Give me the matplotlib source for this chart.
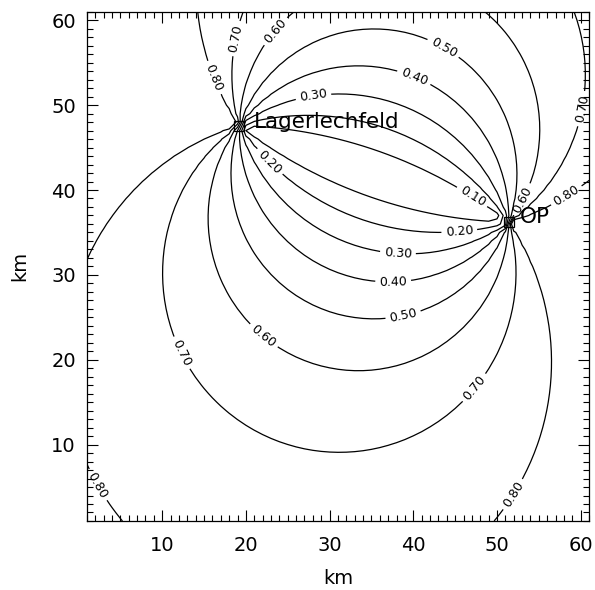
import numpy as np
import matplotlib
matplotlib.use("Agg")
import matplotlib.pyplot as plt
from matplotlib.ticker import MultipleLocator

# radar sites (km)
site_names = ["Lagerlechfeld", "OP"]
site_x = [19.2, 51.4]
site_y = [47.6, 36.2]

# contour levels drawn
levels = [0.10, 0.20, 0.30, 0.40, 0.50, 0.60, 0.70, 0.80]

# where the contour labels sit (km)
label_pos = [
    (16.1, 53.2), (19.1, 57.8), (23.8, 58.5), (28.1, 50.8),
    (40.0, 53.1), (43.4, 56.4), (22.7, 43.2), (46.8, 38.9),
    (45.5, 35.1), (38.2, 33.3), (37.6, 29.1), (38.8, 25.2),
    (22.1, 22.8), (12.3, 20.8), (47.3, 16.7), (53.3, 38.7),
    (58.2, 39.5), (60.0, 49.6), (2.2, 5.2), (51.5, 4.4),
]

# analysis grid, 1 km spacing
gx = np.arange(1, 62, 1.0)
gy = np.arange(1, 62, 1.0)
X, Y = np.meshgrid(gx, gy)

# angle between the two beams at every grid point
ax1, ay1 = site_x[0] - X, site_y[0] - Y
ax2, ay2 = site_x[1] - X, site_y[1] - Y
with np.errstate(invalid="ignore", divide="ignore"):
    cosb = (ax1 * ax2 + ay1 * ay2) / (np.hypot(ax1, ay1) * np.hypot(ax2, ay2))
beta = np.arccos(np.clip(cosb, -1, 1))
Z = 1.0 - beta / np.pi

fig = plt.figure(figsize=(5.95, 5.90), dpi=100)
ax = fig.add_axes([0.146, 0.117, 0.844, 0.863])

cs = ax.contour(X, Y, Z, levels=levels, colors="black", linewidths=0.9)
ax.clabel(cs, fmt="%.2f", fontsize=9, inline=True, inline_spacing=4,
          manual=label_pos)

ax.plot(site_x, site_y, "s", ms=7, mfc="none", mec="black", mew=0.9)
ax.text(20.9, 47.3, site_names[0], fontsize=15.5, va="baseline", ha="left")
ax.text(52.7, 36.1, site_names[1], fontsize=15.5, va="baseline", ha="left")

ax.set_xlim(1, 61)
ax.set_ylim(1, 61)
ax.xaxis.set_major_locator(MultipleLocator(10))
ax.yaxis.set_major_locator(MultipleLocator(10))
ax.xaxis.set_minor_locator(MultipleLocator(1))
ax.yaxis.set_minor_locator(MultipleLocator(1))
ax.tick_params(which="both", direction="in", top=True, right=True,
               labelsize=14, width=0.8)
ax.tick_params(which="major", length=8, pad=8)
ax.tick_params(which="minor", length=4)
ax.tick_params(axis="x", which="major", pad=11)
for s in ax.spines.values():
    s.set_linewidth(0.9)

ax.set_xlabel("km", fontsize=14, labelpad=10)
ax.set_ylabel("km", fontsize=14, labelpad=16)

fig.savefig("out.png", dpi=100)
